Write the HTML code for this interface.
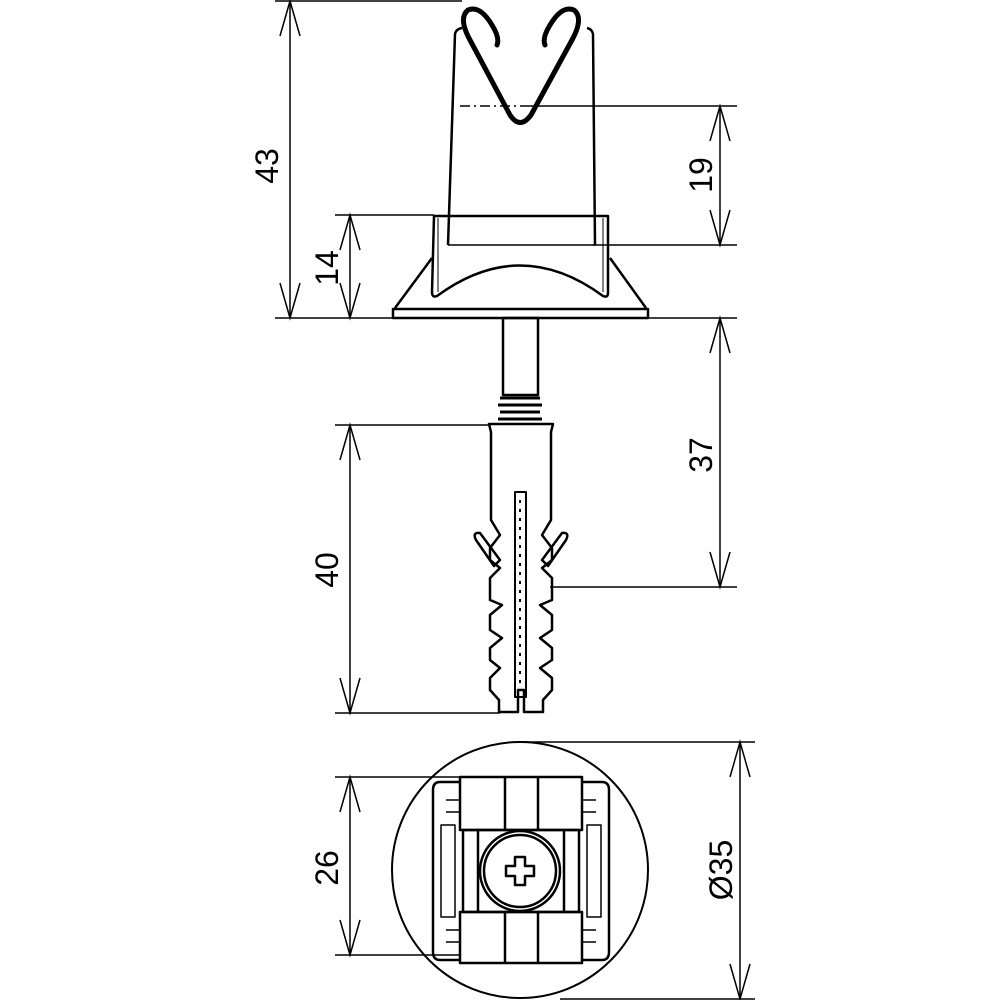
<!DOCTYPE html>
<html><head><style>html,body{margin:0;padding:0;background:#fff}svg{display:block}</style></head>
<body>
<svg width="1000" height="1000" viewBox="0 0 1000 1000" xmlns="http://www.w3.org/2000/svg" font-family="Liberation Sans, DejaVu Sans, sans-serif">
<g fill="none" stroke="#000" stroke-width="1.5">
<line x1="275" y1="1" x2="462" y2="1"/>
<line x1="275" y1="318" x2="737" y2="318"/>
<line x1="335" y1="215" x2="434" y2="215"/>
<line x1="593" y1="245" x2="737" y2="245"/>
<line x1="530" y1="106" x2="737" y2="106"/>
<line x1="550" y1="587" x2="737" y2="587"/>
<line x1="335" y1="425" x2="490" y2="425"/>
<line x1="335" y1="713" x2="500" y2="713"/>
<line x1="335" y1="777" x2="460" y2="777"/>
<line x1="335" y1="955" x2="460" y2="955"/>
<line x1="520" y1="742" x2="755" y2="742"/>
<line x1="560" y1="999" x2="755" y2="999"/>
<line x1="290" y1="1" x2="290" y2="318"/>
<polyline points="280,36 290,1 300,36"/><polyline points="280,283 290,318 300,283"/>
<line x1="350" y1="215" x2="350" y2="318"/>
<polyline points="340,250 350,215 360,250"/><polyline points="340,283 350,318 360,283"/>
<line x1="720" y1="106" x2="720" y2="245"/>
<polyline points="710,141 720,106 730,141"/><polyline points="710,210 720,245 730,210"/>
<line x1="720" y1="318" x2="720" y2="587"/>
<polyline points="710,353 720,318 730,353"/><polyline points="710,552 720,587 730,552"/>
<line x1="350" y1="425" x2="350" y2="713"/>
<polyline points="340,460 350,425 360,460"/><polyline points="340,678 350,713 360,678"/>
<line x1="350" y1="777" x2="350" y2="955"/>
<polyline points="340,812 350,777 360,812"/><polyline points="340,920 350,955 360,920"/>
<line x1="740" y1="742" x2="740" y2="999"/>
<polyline points="730,777 740,742 750,777"/><polyline points="730,964 740,999 750,964"/>
</g>
<g font-size="32" fill="#000" text-anchor="middle">
<text transform="translate(278,166) rotate(-90)">43</text>
<text transform="translate(338,268) rotate(-90)">14</text>
<text transform="translate(712,175) rotate(-90)">19</text>
<text transform="translate(712,455) rotate(-90)">37</text>
<text transform="translate(338,570) rotate(-90)">40</text>
<text transform="translate(338,868) rotate(-90)">26</text>
<text transform="translate(732,870) rotate(-90)">Ø35</text>
</g>
<g fill="none" stroke="#000" stroke-width="2.5" stroke-linejoin="round">
<path d="M448,245 L455,34 Q456,29 462,28"/>
<path d="M587,28 Q592,29 593,34 L595,245"/>
<line x1="448" y1="245" x2="595" y2="245" stroke-width="1.5"/>
<line x1="460" y1="106" x2="530" y2="106" stroke-width="1.5" stroke-dasharray="10,4,2,4"/>
<path d="M434,216 L608,216 L608,293 Q608,298 603,296 Q520,235 437,296 Q432,298 432,292 Z"/>
<line x1="438" y1="218" x2="438" y2="292" stroke-width="1"/>
<line x1="603" y1="218" x2="603" y2="292" stroke-width="1"/>
<path d="M432,258 L395,308 M610,258 L646,308"/>
<rect x="393" y="309" width="255" height="9"/>
<path d="M497,45 Q500,38 492,25 Q480,5 468,10 Q458,18 470,40 L510,115 Q520,130 531,115 L572,40 Q584,18 574,10 Q562,5 550,25 Q542,38 545,45" stroke-width="5" stroke-linecap="round"/>
<rect x="503" y="318" width="35" height="77"/>
<path d="M500,398 L540,398 M498,405 L542,405 M500,412 L540,412 M498,419 L542,419" stroke-width="3"/>
<path d="M489,424 L553,424 L551,432 L551,520 L542,535 L552,548 L552,560 L542,568 L552,578 L552,600 L540,605 L552,615 L552,630 L540,638 L552,648 L552,660 L540,668 L552,678 L552,690 L543,700 L543,712 L524,712 L524,690 L518,690 L518,712 L499,712 L499,700 L490,690 L490,678 L500,668 L490,660 L490,648 L502,638 L490,630 L490,615 L502,605 L490,600 L490,578 L500,568 L490,560 L490,548 L500,535 L491,520 L491,432 Z"/>
<path d="M476,540 Q472,532 480,533 L500,560 L494,566 Z"/>
<path d="M566,540 Q570,532 562,533 L542,560 L548,566 Z"/>
<rect x="515" y="492" width="11" height="205" stroke-width="2"/>
<line x1="520" y1="500" x2="520" y2="690" stroke-width="2" stroke-dasharray="3,6"/>
<circle cx="520" cy="870" r="128" stroke-width="2"/>
<rect x="460" y="777" width="122" height="53"/>
<line x1="505" y1="777" x2="505" y2="830"/><line x1="538" y1="777" x2="538" y2="830"/>
<rect x="460" y="912" width="122" height="51"/>
<line x1="505" y1="912" x2="505" y2="963"/><line x1="538" y1="912" x2="538" y2="963"/>
<rect x="463" y="830" width="116" height="82"/>
<line x1="478" y1="830" x2="478" y2="912"/><line x1="564" y1="830" x2="564" y2="912"/>
<circle cx="520" cy="871" r="40"/>
<circle cx="520" cy="871" r="36"/>
<path d="M515,857 h10 v9 h9 v10 h-9 v9 h-10 v-9 h-9 v-10 h9 z"/>
<path d="M460,782 L440,782 Q433,782 433,790 L433,952 Q433,960 440,960 L460,960"/>
<path d="M582,782 L602,782 Q609,782 609,790 L609,952 Q609,960 602,960 L582,960"/>
<rect x="441" y="825" width="14" height="92" stroke-width="1.5"/>
<rect x="587" y="825" width="14" height="92" stroke-width="1.5"/>
<path d="M446,800 h14 M446,812 h14 M446,930 h14 M446,942 h14 M582,800 h14 M582,812 h14 M582,930 h14 M582,942 h14" stroke-width="1.5"/>
</g>
</svg>
</body></html>
